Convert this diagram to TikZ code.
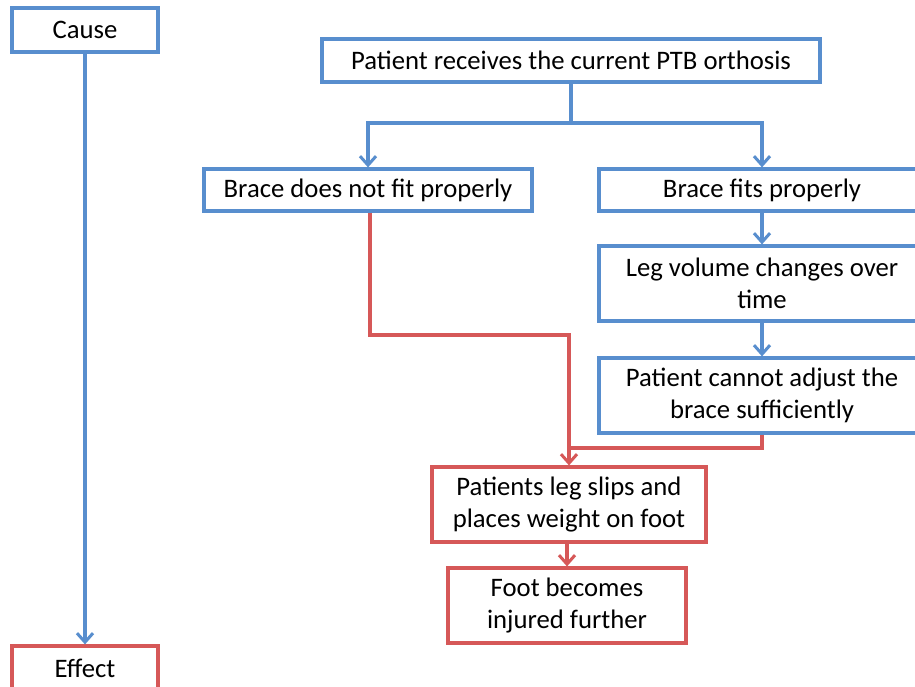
\documentclass[tikz,border=0pt]{standalone}
\usepackage{fontspec}
\setmainfont{Carlito}
\usetikzlibrary{arrows.meta}
\definecolor{bblue}{RGB}{88,142,206}
\definecolor{rred}{RGB}{214,88,88}
\tikzset{
  box/.style={draw, line width=3.2pt, inner sep=0pt, align=center, font=\fontsize{26.7}{31.5}\selectfont, fill=white},
  bluebox/.style={box, draw=bblue},
  redbox/.style={box, draw=rred},
  conn/.style={line width=3.2pt, line join=miter},
  bluec/.style={conn, draw=bblue},
  redc/.style={conn, draw=rred},
  tip/.style={-{Straight Barb[length=9pt,width=16pt,line width=3pt]}}
}
\begin{document}
\begin{tikzpicture}[x=1pt,y=-1pt]
\useasboundingbox (0,0) rectangle (915,686);
\clip (0,0) rectangle (915,686);
\fill[white] (0,0) rectangle (915,686);
% nodes
\node[bluebox, minimum width=146pt, minimum height=44pt] (cause) at (85,30) {Cause};
\node[redbox, minimum width=146pt, minimum height=44pt] (effect) at (85,668) {Effect};
\node[bluebox, minimum width=498pt, minimum height=43pt] (receive) at (571,60.5) {Patient receives the current PTB orthosis};
\node[bluebox, minimum width=328pt, minimum height=42pt] (nofit) at (368,190) {Brace does not fit properly};
\node[bluebox, minimum width=326pt, minimum height=42pt] (fit) at (762,190) {Brace fits properly};
\node[bluebox, minimum width=326pt, minimum height=75pt] (volume) at (762,283.5) {Leg volume changes over\\time};
\node[bluebox, minimum width=326pt, minimum height=75pt] (adjust) at (762,395.5) {Patient cannot adjust the\\brace sufficiently};
\node[redbox, minimum width=274pt, minimum height=75pt] (slips) at (569,504.5) {Patients leg slips and\\places weight on foot};
\node[redbox, minimum width=238pt, minimum height=75pt] (foot) at (567,605.5) {Foot becomes\\injured further};
% junction coordinates
\coordinate (split) at (571,123);
\coordinate (redbend) at (370,335);
\coordinate (redjoin) at (569,335);
\coordinate (rightbend) at (762,448);
\coordinate (merge) at (569,448);
% connectors
\draw[bluec, tip] (cause.south) -- (effect.north);
\draw[bluec] (receive.south) -- (split);
\draw[bluec, tip] (split) -| (nofit.north);
\draw[bluec, tip] (split) -| (fit.north);
\draw[bluec, tip] (fit.south) -- (volume.north);
\draw[bluec, tip] (volume.south) -- (adjust.north);
\draw[redc, tip] (nofit.south -| redbend) -- (redbend) -- (redjoin) -- (slips.north -| redjoin);
\draw[redc] (adjust.south) -- (rightbend) -- (merge);
\draw[redc, tip] (slips.south -| foot.north) -- (foot.north);
\end{tikzpicture}
\end{document}
